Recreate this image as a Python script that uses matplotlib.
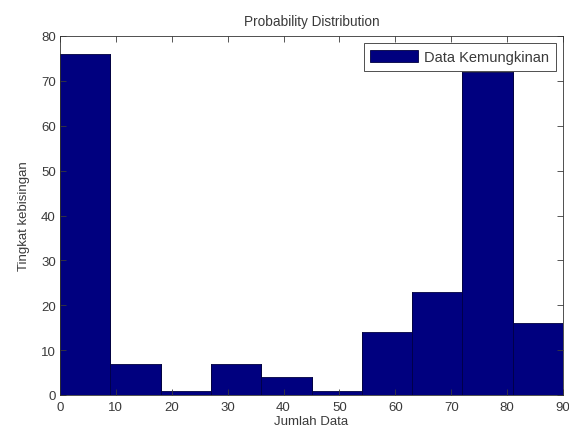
import matplotlib
matplotlib.use("Agg")
import matplotlib.pyplot as plt
import numpy as np

bin_edges = [0, 9, 18, 27, 36, 45, 54, 63, 72, 81, 90]
counts = [76, 7, 1, 7, 4, 1, 14, 23, 72, 16]
x_ticks = [0, 10, 20, 30, 40, 50, 60, 70, 80, 90]
y_ticks = [0, 10, 20, 30, 40, 50, 60, 70, 80]

plt.rcParams['font.family'] = ['Liberation Sans', 'DejaVu Sans']
txt = '#3a3a3a'

fig = plt.figure(figsize=(5.69, 4.31), dpi=100)
ax = fig.add_axes([60/569, 35/431, 503/569, 359/431])

ax.stairs(counts, bin_edges, fill=True, facecolor='#00007f', edgecolor='#000040',
          linewidth=0.6, label='Data Kemungkinan')
for i in range(len(counts)):
    ax.plot([bin_edges[i], bin_edges[i]], [0, max(counts[i], counts[i-1] if i > 0 else 0)],
            color='#000040', linewidth=0.6)

ax.set_xlim(0, 90)
ax.set_ylim(0, 80)
ax.set_xticks(x_ticks)
ax.set_yticks(y_ticks)
ax.tick_params(direction='in', top=True, right=True, labelsize=9.5, colors=txt,
               length=4, width=0.6, pad=4)
ax.tick_params(axis='y', pad=3)
for s in ax.spines.values():
    s.set_linewidth(0.6)
    s.set_color('#333333')

ax.set_title('Probability Distribution', fontsize=9.8, color=txt, pad=8)
ax.set_xlabel('Jumlah Data', fontsize=9.5, color=txt, labelpad=2)
ax.set_ylabel('Tingkat kebisingan', fontsize=9.5, color=txt, labelpad=8)

leg = ax.legend(loc='upper right', fontsize=10.5, fancybox=False, framealpha=1,
                edgecolor='#333333', handlelength=3.3, handleheight=0.9,
                handletextpad=0.4, borderaxespad=0.5, borderpad=0.45)
leg.get_frame().set_linewidth(0.6)
for t in leg.get_texts():
    t.set_color(txt)

fig.savefig('out.png', dpi=100)
